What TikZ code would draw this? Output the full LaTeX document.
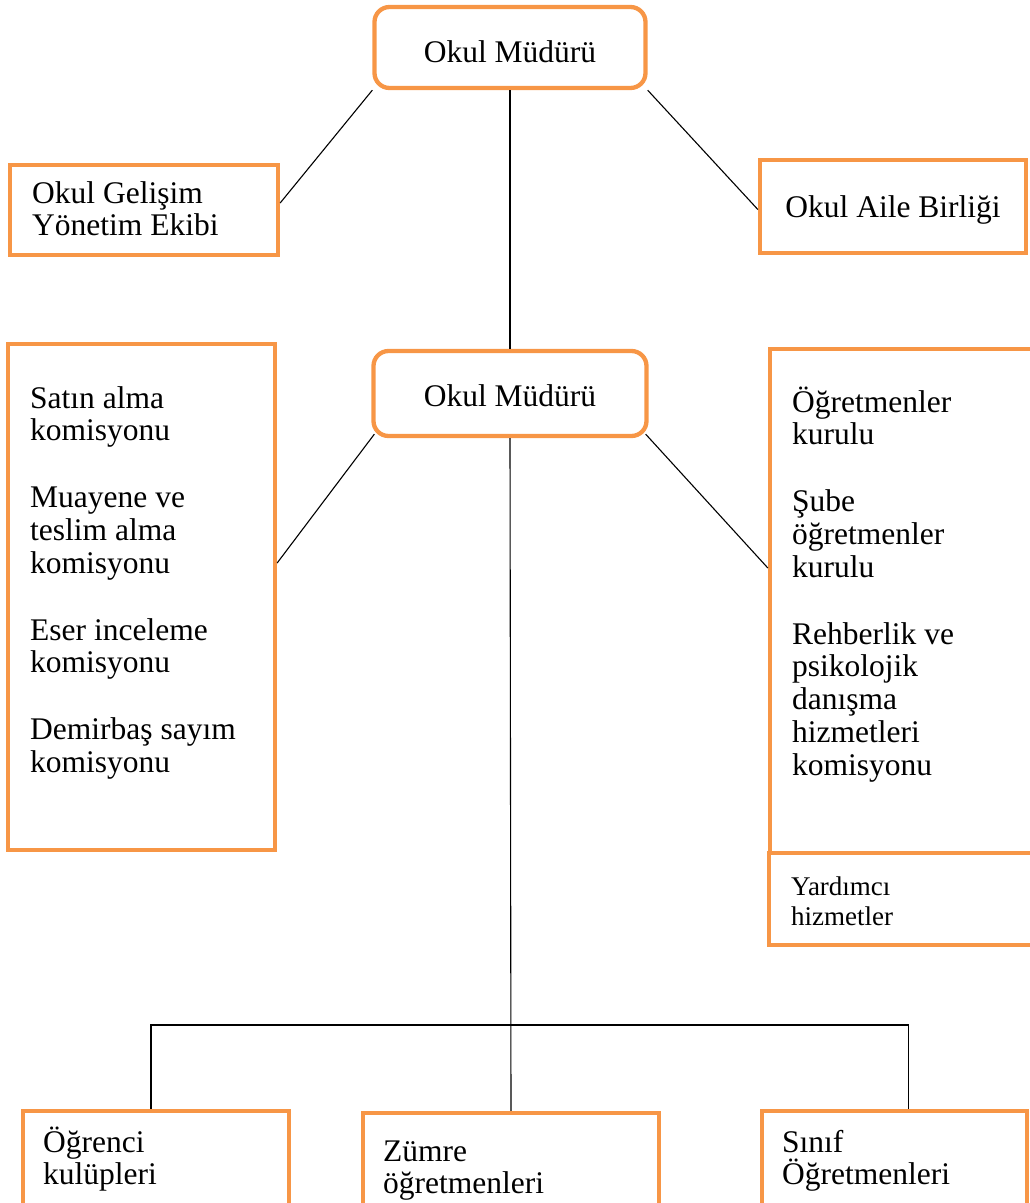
\documentclass[tikz,border=0pt]{standalone}
\usepackage{fontspec}
\setmainfont{Liberation Serif}
\definecolor{acc}{HTML}{F79646}
\newcommand\bigtxt[1]{\parbox[t]{420pt}{\fontsize{31.5}{32.8}\selectfont\raggedright #1}}
\newcommand\smalltxt[1]{\parbox[t]{300pt}{\fontsize{27}{30}\selectfont\raggedright #1}}
\begin{document}
\begin{tikzpicture}[x=1pt,y=-1pt,
  box/.style={draw=acc,line width=4.3pt,inner sep=0pt},
  rbox/.style={box,rounded corners=15pt,font=\fontsize{31.5}{33}\selectfont},
  lbl/.style={anchor=base west,inner sep=0pt},
  conn/.style={draw=black,line width=1.1pt}]
\useasboundingbox (0,0) rectangle (1030,1203);
\clip (0,0) rectangle (1030,1203);

% boxes
\node[rbox,minimum width=271pt,minimum height=81pt,text height=29pt,text depth=0pt] (m1) at (510,47.5) {Okul Müdürü};
\node[rbox,minimum width=273pt,minimum height=85pt,text height=25pt,text depth=0pt] (m2) at (510,393.5) {Okul Müdürü};
\node[box,minimum width=268pt,minimum height=90pt] (gel) at (144,210) {};
\node[box,minimum width=266pt,minimum height=93pt,font=\fontsize{31.5}{33}\selectfont,text height=21pt,text depth=0pt] (aile) at (893,206.5) {Okul Aile Birliği};
\node[box,minimum width=267pt,minimum height=506pt] (lbig) at (141.5,597) {};
\node[box,minimum width=300pt,minimum height=504pt] (rbig) at (920,601) {};
\node[box,minimum width=300pt,minimum height=92pt] (yard) at (919,899) {};
\node[box,minimum width=266pt,minimum height=150pt] (ogr) at (156,1186) {};
\node[box,minimum width=296pt,minimum height=150pt] (zum) at (511,1188) {};
\node[box,minimum width=265pt,minimum height=150pt] (sin) at (894.5,1186) {};

% texts
\node[lbl] (tgel) at (32,203) {\bigtxt{Okul Gelişim\\Yönetim Ekibi}};
\node[lbl] (tlbig) at (30,408) {\bigtxt{Satın alma\\komisyonu\\[34pt]Muayene ve\\teslim alma\\komisyonu\\[34pt]Eser inceleme\\komisyonu\\[34pt]Demirbaş sayım\\komisyonu}};
\node[lbl] (trbig) at (792,412) {\bigtxt{Öğretmenler\\kurulu\\[34pt]Şube\\öğretmenler\\kurulu\\[34pt]Rehberlik ve\\psikolojik\\danışma\\hizmetleri\\komisyonu}};
\node[lbl] (tyard) at (791,895) {\smalltxt{Yardımcı\\hizmetler}};
\node[lbl] (togr) at (43,1152) {\bigtxt{Öğrenci\\kulüpleri}};
\node[lbl] (tzum) at (383,1161) {\bigtxt{Zümre\\öğretmenleri}};
\node[lbl] (tsin) at (782,1152) {\bigtxt{Sınıf\\Öğretmenleri}};

% connectors
\coordinate (bar) at (510,1025);
\draw[conn] (m1.south) -- (m2.north);
\draw[conn] (m1.south west) -- ([yshift=7pt]gel.east);
\draw[conn] (m1.south east) -- ([yshift=-3pt]aile.west);
\draw[conn] ([xshift=3pt,yshift=4pt]m2.south west) -- ([yshift=34pt]lbig.east);
\draw[conn] ([xshift=-3pt,yshift=4pt]m2.south east) -- ([yshift=33pt]rbig.west);
\draw[conn] (m2.south) -- (zum.north);
\draw[conn] ([xshift=-5pt]ogr.north) |- (bar) -| ([xshift=14pt]sin.north);
\end{tikzpicture}
\end{document}
